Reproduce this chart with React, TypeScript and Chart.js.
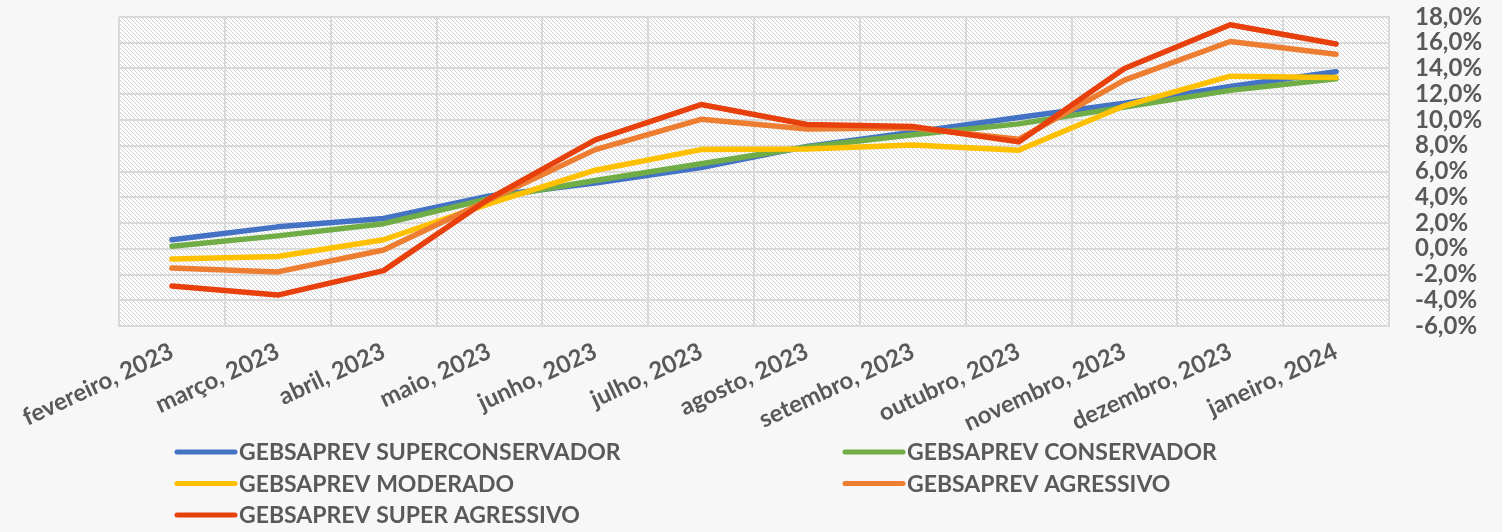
import React, { useEffect, useRef } from 'react';
import { Chart, registerables } from 'chart.js';

Chart.register(...registerables);

const categories = [
  'fevereiro, 2023', 'março, 2023', 'abril, 2023', 'maio, 2023', 'junho, 2023', 'julho, 2023',
  'agosto, 2023', 'setembro, 2023', 'outubro, 2023', 'novembro, 2023', 'dezembro, 2023', 'janeiro, 2024',
];

const seriesNames = [
  'GEBSAPREV SUPERCONSERVADOR',
  'GEBSAPREV CONSERVADOR',
  'GEBSAPREV MODERADO',
  'GEBSAPREV AGRESSIVO',
  'GEBSAPREV SUPER AGRESSIVO',
];

const superConservador = [0.7, 1.7, 2.35, 4.1, 5.1, 6.3, 7.95, 9.05, 10.2, 11.3, 12.6, 13.75];
const conservador = [0.2, 1.0, 1.95, 3.9, 5.3, 6.6, 7.9, 8.85, 9.7, 11.0, 12.3, 13.2];
const moderado = [-0.8, -0.6, 0.7, 3.5, 6.1, 7.7, 7.75, 8.05, 7.65, 11.1, 13.4, 13.3];
const agressivo = [-1.5, -1.8, -0.1, 3.8, 7.7, 10.05, 9.3, 9.4, 8.5, 13.1, 16.1, 15.1];
const superAgressivo = [-2.9, -3.6, -1.7, 3.9, 8.45, 11.2, 9.65, 9.5, 8.3, 14.0, 17.4, 15.9];

const seriesColors = ['#4472C4', '#70AD47', '#FFC000', '#ED7D31', '#E8400C'];

const yMin = -6;
const yMax = 18;
const yStep = 2;

const FONT = 'Lato, "Open Sans", sans-serif';
const TEXT_COLOR = '#595959';
const GRID_COLOR = '#d9d9d9';

function makePattern(ctx: CanvasRenderingContext2D) {
  const c = document.createElement('canvas');
  c.width = 4;
  c.height = 4;
  const p = c.getContext('2d')!;
  p.fillStyle = '#ffffff';
  p.fillRect(0, 0, 4, 4);
  p.fillStyle = '#d2d2d2';
  for (let i = 0; i < 4; i++) p.fillRect(i, i, 1, 1);
  return ctx.createPattern(c, 'repeat');
}

const bgPlugin = {
  id: 'bgPlugin',
  beforeDraw(chart: any) {
    const { ctx, chartArea: a, width, height } = chart;
    ctx.save();
    ctx.fillStyle = '#f7f7f7';
    ctx.fillRect(0, 0, width, height);
    ctx.fillStyle = '#ffffff';
    ctx.fillRect(a.left, a.top, a.right - a.left, a.bottom - a.top);
    const pat = makePattern(ctx);
    if (pat) {
      ctx.fillStyle = pat;
      ctx.fillRect(a.left, a.top, a.right - a.left, a.bottom - a.top);
    }
    ctx.restore();
  },
};

const legendPlugin = {
  id: 'gridLegend',
  afterDraw(chart: any, _args: any, opts: any) {
    const { ctx } = chart;
    const cols: number[] = opts.cols;
    const rows: number[] = opts.rows;
    ctx.save();
    ctx.font = `bold ${opts.fontSize}px ${FONT}`;
    ctx.textBaseline = 'middle';
    ctx.textAlign = 'left';
    chart.data.datasets.forEach((ds: any, i: number) => {
      const x = cols[i % 2];
      const y = rows[Math.floor(i / 2)];
      ctx.strokeStyle = ds.borderColor;
      ctx.lineWidth = 5;
      ctx.lineCap = 'round';
      ctx.beginPath();
      ctx.moveTo(x + 2, y);
      ctx.lineTo(x + opts.lineLen, y);
      ctx.stroke();
      ctx.fillStyle = TEXT_COLOR;
      ctx.fillText(ds.label, x + opts.lineLen + 4, y + 1);
    });
    ctx.restore();
  },
};

export default function App() {
  const ref = useRef<HTMLCanvasElement | null>(null);

  useEffect(() => {
    document.body.style.margin = '0';
    const canvas = ref.current!;
    const values = [superConservador, conservador, moderado, agressivo, superAgressivo];
    const chart = new Chart(canvas, {
      type: 'line',
      data: {
        labels: categories,
        datasets: values.map((v, i) => ({
          label: seriesNames[i],
          data: v,
          borderColor: seriesColors[i],
          backgroundColor: seriesColors[i],
          borderWidth: 5.5,
          pointRadius: 0,
          tension: 0,
          borderCapStyle: 'round' as const,
          borderJoinStyle: 'round' as const,
          order: values.length - 1 - i,
        })),
      },
      options: {
        responsive: false,
        animation: false,
        layout: { padding: { left: 119, top: 17, right: 0, bottom: 0 } },
        plugins: {
          legend: { display: false },
          tooltip: { enabled: false },
          gridLegend: { cols: [175, 843], rows: [452, 483.5, 515], lineLen: 60, fontSize: 23 },
        } as any,
        scales: {
          x: {
            type: 'category',
            offset: true,
            grid: { offset: true, color: GRID_COLOR, lineWidth: 2, drawTicks: false },
            border: { display: true, color: GRID_COLOR, width: 2 },
            ticks: {
              autoSkip: false,
              minRotation: 25,
              maxRotation: 25,
              padding: 11,
              color: TEXT_COLOR,
              font: { family: FONT, size: 24, weight: 'bold' },
            },
            afterFit(scale: any) {
              scale.paddingLeft = 0;
              scale.paddingRight = 0;
              scale.height = 206;
            },
          },
          y: {
            position: 'right',
            min: yMin,
            max: yMax,
            grid: { color: GRID_COLOR, lineWidth: 2, drawTicks: false },
            border: { display: true, color: GRID_COLOR, width: 2 },
            ticks: {
              stepSize: yStep,
              autoSkip: false,
              padding: 26,
              color: TEXT_COLOR,
              font: { family: FONT, size: 24, weight: 'bold' },
              callback: (v: any) => Number(v).toFixed(1).replace('.', ',') + '%',
            },
            afterFit(scale: any) {
              scale.width = 113;
              scale.paddingTop = 0;
              scale.paddingBottom = 0;
            },
          },
        },
      },
      plugins: [bgPlugin, legendPlugin],
    });
    return () => chart.destroy();
  }, []);

  return (
    <div style={{ width: 1502, height: 532 }}>
      <canvas ref={ref} width={1502} height={532} style={{ display: 'block' }} />
    </div>
  );
}
